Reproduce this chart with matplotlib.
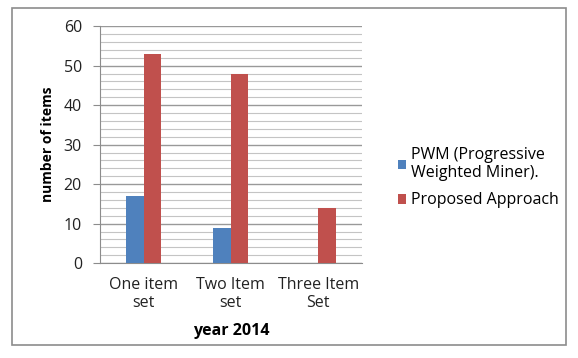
import numpy as np
import matplotlib.pyplot as plt
from matplotlib.patches import Rectangle
from matplotlib.ticker import MultipleLocator

categories = ["One item\nset", "Two Item\nset", "Three Item\nSet"]
pwm = [17, 9, 0]
proposed = [53, 48, 14]
series_names = ["PWM (Progressive\nWeighted Miner).", "Proposed Approach"]

plt.rcParams['font.family'] = ['Open Sans', 'DejaVu Sans']

fig = plt.figure(figsize=(5.78, 3.58), dpi=100)
ax = fig.add_axes([0.173, 0.265, 0.453, 0.662])

# outer chart frame
fig.patches.append(Rectangle((0.021, 0.036), 0.958, 0.942, transform=fig.transFigure,
                             fill=False, edgecolor='#8c8c8c', linewidth=1.2))

x = np.arange(len(categories))
w = 0.2
ax.bar(x - w / 2, pwm, w, color='#4F81BD', label=series_names[0], zorder=3)
ax.bar(x + w / 2, proposed, w, color='#C0504D', label=series_names[1], zorder=3)

ax.set_xlim(-0.5, 2.5)
ax.set_ylim(0, 60)
ax.yaxis.set_major_locator(MultipleLocator(10))
ax.yaxis.set_minor_locator(MultipleLocator(2))
ax.grid(which='major', axis='y', color='#999999', linewidth=1.0, zorder=0)
ax.grid(which='minor', axis='y', color='#c4c4c4', linewidth=0.8, zorder=0)

ax.set_xticks(x)
ax.set_xticklabels(categories, fontsize=11.5, color='#222222', linespacing=1.2)
ax.tick_params(axis='x', length=0, pad=10)
ax.tick_params(axis='y', which='major', length=5, color='#8c8c8c', labelsize=11.5, labelcolor='#222222', pad=8)
ax.tick_params(axis='y', which='minor', length=0)

for side in ['top', 'right']:
    ax.spines[side].set_visible(False)
for side in ['left', 'bottom']:
    ax.spines[side].set_color('#8c8c8c')

ax.set_ylabel('number of items', fontsize=10, fontweight='bold', labelpad=6)
ax.set_xlabel('year 2014', fontsize=11.5, fontweight='bold', labelpad=8)

fig.legend(loc='upper left', bbox_to_anchor=(0.663, 0.63), frameon=False,
           fontsize=11.5, handlelength=0.55, handleheight=0.55, handletextpad=0.3,
           labelspacing=0.7)

fig.savefig('out.png', dpi=100)
